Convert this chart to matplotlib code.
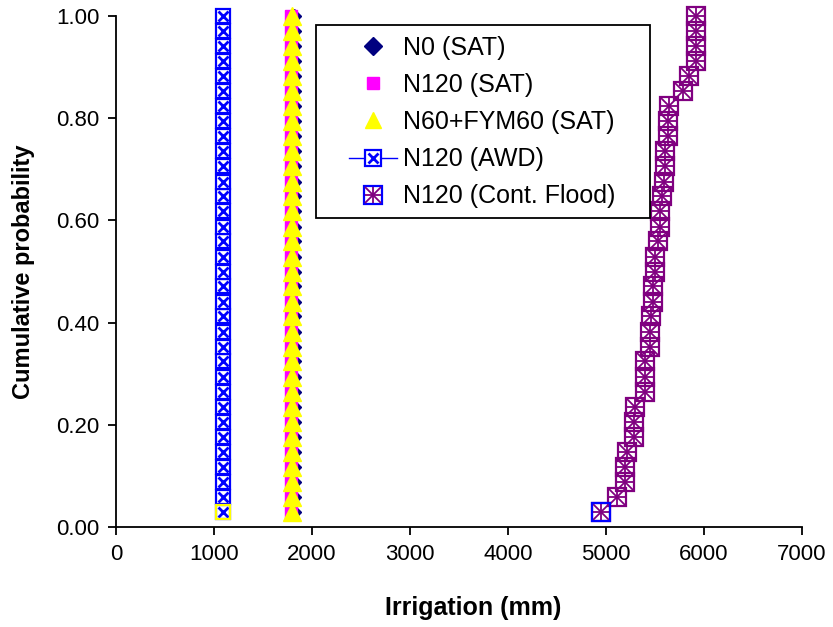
import matplotlib
matplotlib.use('Agg')
import matplotlib.pyplot as plt
from matplotlib.lines import Line2D
from matplotlib.patches import Rectangle
from matplotlib.legend_handler import HandlerTuple

plt.rcParams['font.family'] = ['Liberation Sans', 'DejaVu Sans']

# cumulative probability of each ranked year (34 years)
prob = [0.029, 0.059, 0.088, 0.118, 0.147, 0.176, 0.206, 0.235, 0.265, 0.294,
        0.324, 0.353, 0.382, 0.412, 0.441, 0.471, 0.500, 0.529, 0.559, 0.588,
        0.618, 0.647, 0.676, 0.706, 0.735, 0.765, 0.794, 0.824, 0.853, 0.882,
        0.912, 0.941, 0.971, 1.000]

# irrigation (mm) per series
n0_sat = [1815, 1815, 1815, 1815, 1815, 1815, 1815, 1815, 1815, 1815,
          1815, 1815, 1815, 1815, 1815, 1815, 1815, 1815, 1815, 1815,
          1815, 1815, 1815, 1815, 1815, 1815, 1815, 1815, 1815, 1815,
          1815, 1815, 1815, 1815]
n120_sat = [1790, 1790, 1790, 1790, 1790, 1790, 1790, 1790, 1790, 1790,
            1790, 1790, 1790, 1790, 1790, 1790, 1790, 1790, 1790, 1790,
            1790, 1790, 1790, 1790, 1790, 1790, 1790, 1790, 1790, 1790,
            1790, 1790, 1790, 1790]
n60_fym60_sat = [1800, 1800, 1800, 1800, 1800, 1800, 1800, 1800, 1800, 1800,
                 1800, 1800, 1800, 1800, 1800, 1800, 1800, 1800, 1800, 1800,
                 1800, 1800, 1800, 1800, 1800, 1800, 1800, 1800, 1800, 1800,
                 1800, 1800, 1800, 1800]
n120_awd = [1087, 1087, 1087, 1087, 1087, 1087, 1087, 1087, 1087, 1087,
            1087, 1087, 1087, 1087, 1087, 1087, 1087, 1087, 1087, 1087,
            1087, 1087, 1087, 1087, 1087, 1087, 1087, 1087, 1087, 1087,
            1087, 1087, 1087, 1087]
n120_flood = [4954, 5117, 5194, 5194, 5219, 5281, 5281, 5301, 5393, 5393,
              5393, 5444, 5444, 5464, 5480, 5480, 5500, 5500, 5526, 5546,
              5546, 5570, 5587, 5607, 5607, 5628, 5628, 5643, 5786, 5852,
              5920, 5920, 5920, 5920]

labels = ['N0 (SAT)', 'N120 (SAT)', 'N60+FYM60 (SAT)', 'N120 (AWD)',
          'N120 (Cont. Flood)']

fig = plt.figure(figsize=(8.33, 6.27), dpi=100)
ax = fig.add_axes([116 / 833, 1 - 527 / 627, 686 / 833, 511 / 627])

# continuous flood: purple box with asterisk
ax.plot(n120_flood, prob, ls='none', marker='s', ms=13, mfc='none',
        mec='#800080', mew=1.6, clip_on=False)
ax.plot(n120_flood, prob, ls='none', marker='x', ms=13, mec='#800080',
        mew=1.3, clip_on=False)
ax.plot(n120_flood, prob, ls='none', marker='+', ms=13, mec='#800080',
        mew=1.3, clip_on=False)
ax.plot(n120_flood[:1], prob[:1], ls='none', marker='s', ms=13, mfc='none',
        mec='#0000FF', mew=1.6, clip_on=False)

# SAT series
ax.plot(n0_sat, prob, ls='none', marker='D', ms=7, color='#000080',
        clip_on=False)
ax.plot(n120_sat, prob, ls='none', marker='s', ms=9, color='#FF00FF',
        clip_on=False)
ax.plot(n60_fym60_sat, prob, ls='none', marker='^', ms=13, color='#FFFF00',
        mec='#FFFF00', clip_on=False)

# AWD
ax.plot(n120_awd, prob, color='#0000FF', lw=1, ls='-', marker='s', ms=10,
        mfc='white', mec='#0000FF', mew=1.6, clip_on=False)
ax.plot(n120_awd, prob, ls='none', marker='x', ms=7, mec='#0000FF',
        mew=2, clip_on=False)
ax.plot(n120_awd[:1], prob[:1], ls='none', marker='s', ms=10, mfc='none',
        mec='#FFFF00', mew=1.6, clip_on=False)

ax.set_xlim(0, 7000)
ax.set_ylim(0, 1)
ax.set_xticks([0, 1000, 2000, 3000, 4000, 5000, 6000, 7000])
ax.set_yticks([0, 0.2, 0.4, 0.6, 0.8, 1.0])
ax.yaxis.set_major_formatter(plt.FormatStrFormatter('%.2f'))
ax.tick_params(direction='out', length=6, width=1.3, labelsize=16, pad=6)
for side in ['top', 'right']:
    ax.spines[side].set_visible(False)
for side in ['left', 'bottom']:
    ax.spines[side].set_linewidth(1.3)

ax.set_xlabel('Irrigation (mm)', fontsize=18, fontweight='bold')
ax.xaxis.set_label_coords(0.521, -0.135)
ax.set_ylabel('Cumulative probability', fontsize=17, fontweight='bold')
ax.yaxis.set_label_coords(-0.118, 0.5)

# legend proxies
h_n0 = Line2D([], [], ls='none', marker='D', ms=9, color='#000080')
h_n120 = Line2D([], [], ls='none', marker='s', ms=9, color='#FF00FF')
h_fym = Line2D([], [], ls='none', marker='^', ms=11, color='#FFFF00')
h_awd = (Line2D([], [], color='#0000FF', lw=1, marker='s', ms=11, mfc='white',
                mec='#0000FF', mew=1.6),
         Line2D([], [], ls='none', marker='x', ms=7, mec='#0000FF', mew=2))
h_cf = (Line2D([], [], ls='none', marker='s', ms=13, mfc='none',
               mec='#0000FF', mew=1.6),
        Line2D([], [], ls='none', marker='x', ms=11, mec='#800080', mew=1.3),
        Line2D([], [], ls='none', marker='+', ms=11, mec='#800080', mew=1.3))
leg = ax.legend([h_n0, h_n120, h_fym, h_awd, h_cf], labels,
                handler_map={tuple: HandlerTuple(ndivide=1, pad=0)},
                loc='upper left', bbox_to_anchor=(0.3397, 0.961),
                fontsize=18, frameon=False, borderpad=0, labelspacing=0.525,
                handlelength=1.9, handletextpad=0.26, borderaxespad=0)

# legend frame
ax.add_patch(Rectangle((0.2915, 0.6047), 0.7784 - 0.2915, 0.9824 - 0.6047,
                       transform=ax.transAxes, fill=False, ec='black',
                       lw=1.3, clip_on=False, zorder=4))

fig.savefig('out.png', dpi=100)
